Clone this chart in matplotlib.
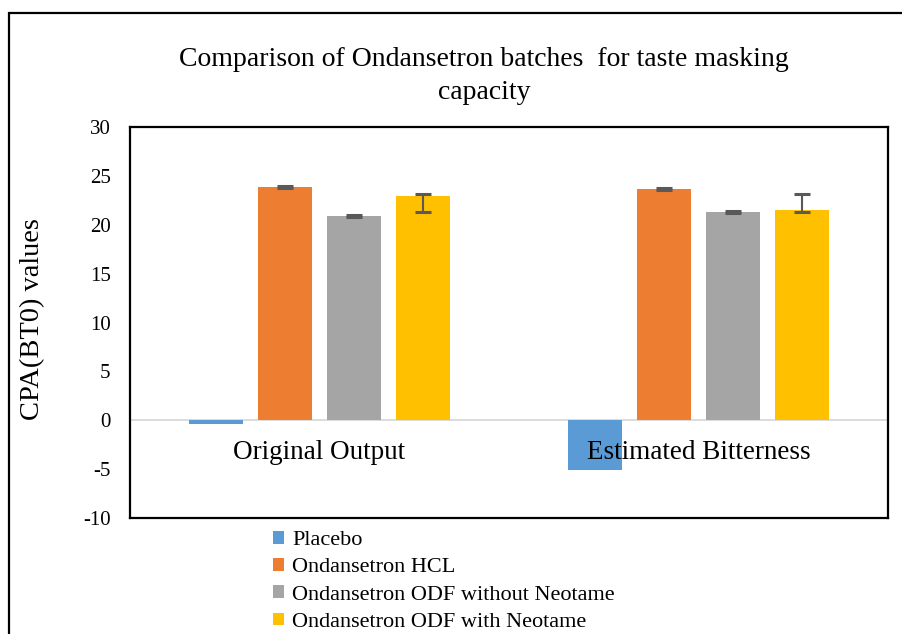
import matplotlib.pyplot as plt
import numpy as np
import matplotlib.patches as patches

plt.rcParams['font.family'] = ['Liberation Serif', 'DejaVu Serif']
plt.rcParams['axes.unicode_minus'] = False

groups = ['Original Output', 'Estimated Bitterness']
series = ['Placebo', 'Ondansetron HCL', 'Ondansetron ODF without Neotame', 'Ondansetron ODF with Neotame']
values = [
    [-0.4, -5.1],   # Placebo
    [23.9, 23.7],   # Ondansetron HCL
    [20.9, 21.3],   # ODF without Neotame
    [22.9, 21.5],   # ODF with Neotame
]
err_lo = [
    [0, 0],
    [0.1, 0.1],
    [0.1, 0.1],
    [1.6, 0.2],
]
err_hi = [
    [0, 0],
    [0.1, 0.1],
    [0.1, 0.1],
    [0.25, 1.6],
]
colors = ['#5B9BD5', '#ED7D31', '#A5A5A5', '#FFC000']

fig = plt.figure(figsize=(9.03, 6.34), dpi=100)
ax = fig.add_axes([130/903, 1-518/634, 758/903, 391/634])

x = np.arange(len(groups))
width = 0.1425
step = 0.182
handles = []
for i in range(4):
    pos = x + (i - 1.5) * step
    b = ax.bar(pos, values[i], width, color=colors[i], label=series[i], zorder=2)
    handles.append(b)
    if i > 0:
        ax.errorbar(pos, values[i], yerr=[err_lo[i], err_hi[i]], fmt='none',
                    ecolor='#595959', elinewidth=1.5, capsize=6, capthick=2.2, zorder=3)

ax.axhline(0, color='#D9D9D9', lw=1.3, zorder=1)
ax.set_xlim(-0.5, 1.5)
ax.set_ylim(-10, 30)
ax.set_yticks(np.arange(-10, 31, 5))
ax.set_xticks([])
ax.tick_params(axis='y', length=0, labelsize=15, pad=14)
for s in ax.spines.values():
    s.set_linewidth(1.6)
    s.set_color('black')

for xi, g in zip(x, groups):
    ax.annotate(g, xy=(xi, 0), xytext=(0, -32), textcoords='offset pixels',
                ha='center', va='center', fontsize=19.5)

ax.set_ylabel('CPA(BT0) values', fontsize=20.5)
ax.yaxis.set_label_coords(-0.112, 0.509)

fig.text(484/903, 1-76/634, 'Comparison of Ondansetron batches  for taste masking\ncapacity',
         ha='center', va='center', fontsize=20, linespacing=1.4)

fig.legend(handles=handles, loc='upper left', bbox_to_anchor=(273/903, 1-531/634),
           frameon=False, fontsize=16, handlelength=0.5, handleheight=0.5,
           handletextpad=0.35, labelspacing=0.36, borderpad=0, borderaxespad=0)

# outer chart frame
frame = patches.Rectangle((9/903, -0.1), 1.2, 1 - 13/634 + 0.1, transform=fig.transFigure,
                          fill=False, edgecolor='black', linewidth=1.6, clip_on=False)
fig.patches.append(frame)

fig.savefig('out.png', dpi=100)
